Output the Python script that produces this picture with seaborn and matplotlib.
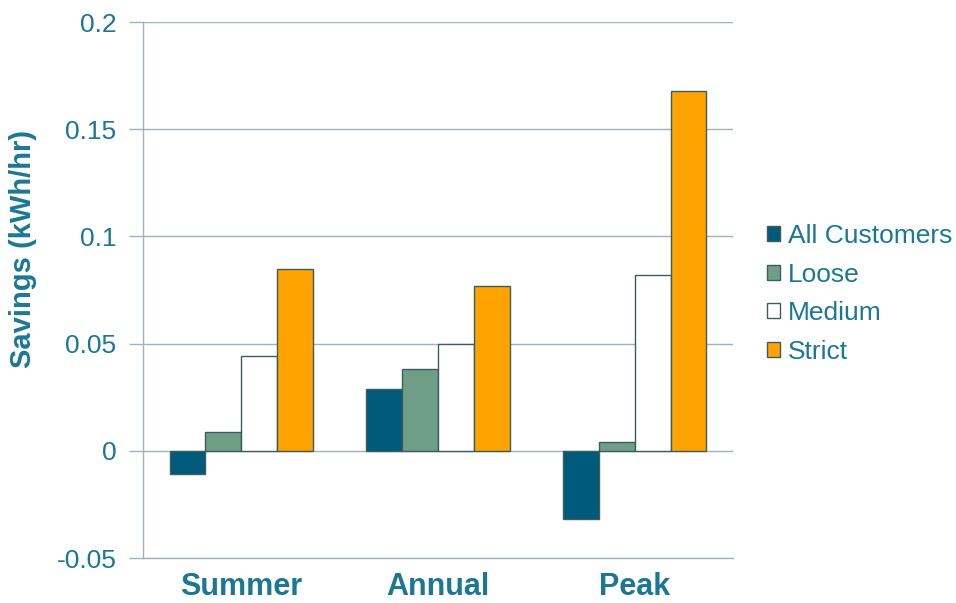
import matplotlib
matplotlib.use("Agg")
import matplotlib.pyplot as plt
import seaborn as sns
import pandas as pd

periods = ["Summer", "Annual", "Peak"]
groups = ["All Customers", "Loose", "Medium", "Strict"]
all_customers = [-0.011, 0.029, -0.032]
loose = [0.009, 0.038, 0.004]
medium = [0.044, 0.050, 0.082]
strict = [0.085, 0.077, 0.168]
y_ticks = [-0.05, 0, 0.05, 0.1, 0.15, 0.2]
y_tick_labels = ["-0.05", "0", "0.05", "0.1", "0.15", "0.2"]

colors = ["#005B7A", "#6F9E86", "#FFFFFF", "#FFA300"]
text_color = "#1B7894"
grid_color = "#A3B1BA"
edge_color = "#3D5C5E"

rows = []
for g, vals in zip(groups, [all_customers, loose, medium, strict]):
    for p, v in zip(periods, vals):
        rows.append({"Period": p, "Group": g, "Savings": v})
df = pd.DataFrame(rows)

sns.set_style("white")
plt.rcParams["font.family"] = ["Liberation Sans", "DejaVu Sans"]

fig = plt.figure(figsize=(9.56, 6.03), dpi=100)
ax = fig.add_axes([143 / 956, 45 / 603, 590 / 956, 536 / 603])

sns.barplot(data=df, x="Period", y="Savings", hue="Group", order=periods,
            hue_order=groups, palette=colors, width=0.73, gap=0,
            edgecolor=edge_color, linewidth=1.0, saturation=1, ax=ax,
            legend=True)

ax.set_xlim(-0.5, 2.5)
ax.set_ylim(-0.05, 0.2)
ax.set_yticks(y_ticks)
ax.set_yticklabels(y_tick_labels)
ax.yaxis.grid(True, color=grid_color, linewidth=1.0)
ax.set_axisbelow(True)

for s in ["top", "right"]:
    ax.spines[s].set_visible(False)
for s in ["left", "bottom"]:
    ax.spines[s].set_color(grid_color)
    ax.spines[s].set_linewidth(1.0)

ax.tick_params(axis="y", length=10, width=1.0, color=grid_color, pad=9,
               labelsize=19, labelcolor=text_color, left=True)
ax.tick_params(axis="x", length=0, pad=10, labelsize=22, labelcolor=text_color)
for lbl in ax.get_xticklabels():
    lbl.set_fontweight("bold")

ax.set_xlabel("")
ax.set_ylabel("Savings (kWh/hr)", fontsize=21, fontweight="bold",
              color=text_color)
ax.yaxis.set_label_coords(-0.18, 0.576)

leg = ax.legend(loc="center left", bbox_to_anchor=(1.058, 0.4925), frameon=False,
                fontsize=19, handlelength=0.5, handleheight=0.5,
                handletextpad=0.3, labelspacing=0.55, borderaxespad=0,
                borderpad=0)
for t in leg.get_texts():
    t.set_color(text_color)

fig.savefig("out.png", dpi=100)
